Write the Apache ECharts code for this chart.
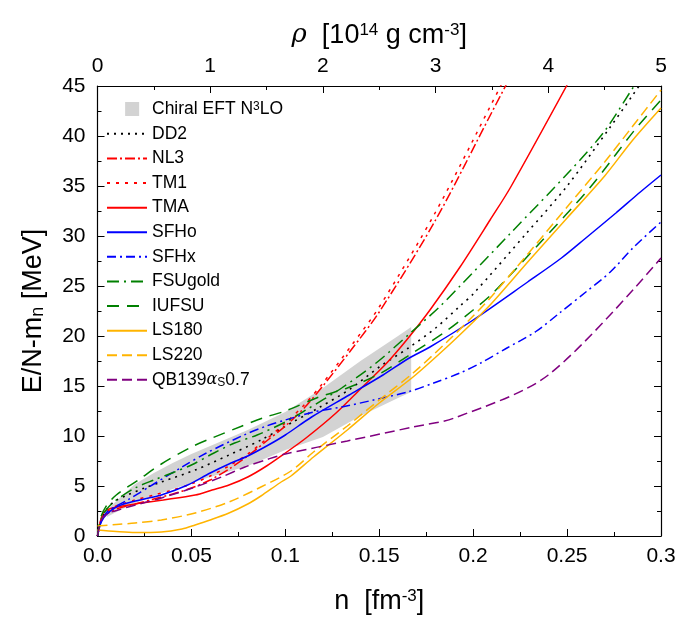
<!DOCTYPE html>
<html>
<head>
<meta charset="utf-8">
<script src="https://cdn.jsdelivr.net/npm/echarts@6/dist/echarts.min.js"></script>
<style>
  html, body { margin: 0; padding: 0; background: #fff; }
  #chart { width: 694px; height: 619px; }
</style>
</head>
<body>
<div id="chart"></div>
<script>
// neutron matter E/N - m_n [MeV] vs n [fm^-3]

// chiral EFT band (lower / upper edge)
var bandN     = [0.005, 0.01, 0.02, 0.03, 0.04, 0.05, 0.06, 0.08, 0.1, 0.12, 0.14, 0.16, 0.167];
var bandLow   = [1.9, 2.4, 3.3, 4.0, 4.7, 5.3, 5.9, 7.0, 8.6, 9.9, 12.0, 13.8, 14.4];
var bandHigh  = [2.6, 3.5, 5.2, 6.3, 7.3, 8.2, 9.0, 10.6, 12.4, 14.8, 17.5, 20.0, 20.9];

var dd2 = [[0,0],[0.002,1.6],[0.005,2.7],[0.0093,3.5],[0.016,4.1],[0.025,4.8],[0.034,5.4],[0.052,6.6],
  [0.07,8.1],[0.087,9.6],[0.104,11.4],[0.1185,12.9],[0.1345,14.7],[0.15,16.9],[0.1655,18.8],[0.18,20.8],
  [0.193,23.0],[0.2,24.2],[0.2285,30.3],[0.25,35.0],[0.273,40.9],[0.285,44.1],[0.3,48.2]];
var nl3 = [[0,0],[0.002,1.6],[0.005,2.2],[0.01,2.7],[0.02,3.2],[0.03,3.7],[0.04,4.2],[0.05,4.8],[0.06,5.6],
  [0.07,6.7],[0.08,8.0],[0.09,9.5],[0.1,11.0],[0.11,12.8],[0.12,15.0],[0.135,18.6],[0.15,22.4],
  [0.18,31.6],[0.21,42.4],[0.22,46.0]];
var tm1 = [[0,0],[0.002,1.7],[0.005,2.4],[0.01,3.0],[0.02,3.6],[0.03,4.1],[0.04,4.6],[0.05,5.2],[0.06,6.0],
  [0.07,7.0],[0.08,8.2],[0.09,9.7],[0.1,11.3],[0.11,13.1],[0.12,15.3],[0.135,19.0],[0.15,22.9],
  [0.18,32.4],[0.21,43.3],[0.22,47.0]];
var tma = [[0,0],[0.002,1.8],[0.004,2.5],[0.01,2.9],[0.0235,3.3],[0.035,3.6],[0.052,4.1],[0.061,4.6],
  [0.07,5.1],[0.08,5.9],[0.09,7.0],[0.1,8.3],[0.111,9.8],[0.127,12.3],[0.14,14.7],[0.154,17.3],[0.165,19.7],
  [0.177,22.6],[0.193,26.9],[0.209,31.6],[0.22,34.9],[0.25,45.1]];
var sfho = [[0,0],[0.002,1.4],[0.005,2.2],[0.01,2.9],[0.016,3.3],[0.025,3.7],[0.034,4.1],[0.048,5.1],
  [0.06,6.3],[0.07,7.2],[0.08,8.0],[0.091,9.1],[0.1,10.1],[0.114,11.9],[0.134,14.1],[0.152,16.1],
  [0.166,17.8],[0.177,18.9],[0.2,21.6],[0.229,25.4],[0.247,27.8],[0.26,29.8],[0.276,32.3],[0.289,34.4],[0.3,36.1]];
var sfhx = [[0,0],[0.002,1.5],[0.005,2.4],[0.01,3.0],[0.016,3.6],[0.03,5.2],[0.045,6.9],[0.058,8.3],
  [0.078,10.1],[0.09,11.0],[0.1,11.6],[0.115,12.4],[0.13,12.9],[0.147,13.6],[0.165,14.4],[0.179,15.3],
  [0.193,16.3],[0.204,17.3],[0.218,18.8],[0.233,20.4],[0.246,22.3],[0.26,24.4],[0.273,26.4],[0.285,28.8],[0.3,31.4]];
var fsugold = [[0,0],[0.002,1.7],[0.005,2.7],[0.01,3.6],[0.02,4.8],[0.03,5.6],[0.041,6.4],[0.05,7.1],
  [0.062,8.3],[0.073,9.3],[0.085,10.1],[0.1,11.4],[0.111,12.6],[0.13,14.8],[0.149,17.4],[0.166,20.2],
  [0.182,22.9],[0.193,25.0],[0.22,30.3],[0.252,36.6],[0.27,40.5],[0.286,45.1],[0.3,49.0]];
var iufsu = [[0,0],[0.002,2.0],[0.005,3.1],[0.01,4.1],[0.0217,5.6],[0.034,7.2],[0.05,8.9],[0.061,9.8],
  [0.077,11.0],[0.088,11.8],[0.1,12.5],[0.118,13.9],[0.133,14.8],[0.15,16.2],[0.166,18.1],[0.185,20.4],
  [0.2,22.6],[0.21,24.2],[0.235,29.2],[0.262,34.8],[0.286,40.6],[0.3,43.6]];
var ls180 = [[0,0.6],[0.01,0.45],[0.02,0.35],[0.034,0.4],[0.045,0.7],[0.052,1.1],[0.06,1.6],[0.07,2.3],
  [0.08,3.2],[0.087,4.0],[0.097,5.3],[0.103,6.0],[0.115,7.9],[0.133,10.6],[0.15,13.3],[0.168,15.9],
  [0.186,18.9],[0.2,21.4],[0.21,23.3],[0.23,27.6],[0.25,31.8],[0.27,36.0],[0.285,39.6],[0.3,42.8]];
var ls220 = [[0,1.0],[0.01,1.15],[0.02,1.3],[0.034,1.6],[0.052,2.3],[0.07,3.4],[0.087,4.9],[0.103,6.5],
  [0.115,8.4],[0.133,11.0],[0.15,13.6],[0.168,16.3],[0.186,19.4],[0.2,22.0],[0.21,24.0],[0.23,28.4],
  [0.25,32.9],[0.27,37.4],[0.285,41.0],[0.3,44.6]];
var qb139 = [[0,0],[0.002,1.6],[0.0056,2.3],[0.0093,2.5],[0.0163,2.9],[0.034,3.8],[0.052,4.9],[0.066,5.9],
  [0.0785,6.9],[0.091,7.7],[0.1,8.2],[0.133,9.5],[0.168,10.9],[0.19,11.8],[0.24,16.1],[0.3,27.8]];

var xTicks = [0, 0.05, 0.1, 0.15, 0.2, 0.25, 0.3];
var rhoTicks = [0, 1, 2, 3, 4, 5];

var FONT = 'Liberation Sans';

function curve(name, data, color, type, width) {
  return {
    name: name,
    type: 'line',
    data: data,
    xAxisIndex: 0,
    yAxisIndex: 0,
    symbol: 'none',
    smooth: 0.3,
    lineStyle: { color: color, type: type, width: width || 1.5 },
    itemStyle: { color: color },
    z: 3
  };
}

// one polygon for the whole band, points mapped through the axes
function renderBand(params, api) {
  if (params.dataIndex !== 0) return null;
  var pts = [];
  for (var i = 0; i < bandN.length; i++) pts.push(api.coord([bandN[i], bandHigh[i]]));
  for (var j = bandN.length - 1; j >= 0; j--) pts.push(api.coord([bandN[j], bandLow[j]]));
  return { type: 'polygon', shape: { points: pts }, style: { fill: '#d3d3d3' } };
}

var chart = echarts.init(document.getElementById('chart'));

var axisBase = {
  axisLine: { show: true, onZero: false, lineStyle: { color: '#000', width: 1.2 } },
  axisTick: { inside: true, length: 7, lineStyle: { color: '#000' } },
  minorTick: { show: true, splitNumber: 2, length: 4, lineStyle: { color: '#000' } },
  splitLine: { show: false }
};

var option = {
  backgroundColor: '#fff',
  animation: false,
  grid: { left: 97.5, right: 33, top: 86, bottom: 83, outerBoundsMode: 'none', containLabel: false },
  legend: {
    orient: 'vertical',
    left: 101,
    top: 95,
    itemWidth: 40,
    itemHeight: 14,
    itemGap: 6.6,
    itemStyle: { opacity: 0 },
    textStyle: {
      fontFamily: FONT, fontSize: 17.5, color: '#000', lineHeight: 17.5,
      rich: {
        sup: { fontFamily: FONT, fontSize: 12, verticalAlign: 'top', lineHeight: 12, padding: [0, 0, 6, 0] },
        sub: { fontFamily: FONT, fontSize: 12, verticalAlign: 'bottom', lineHeight: 12 },
        it: { fontFamily: 'DejaVu Serif', fontStyle: 'italic', fontSize: 16 }
      }
    },
    formatter: function (name) {
      if (name === 'Chiral EFT N3LO') return 'Chiral EFT N{sup|3}LO';
      if (name === 'QB139aS0.7') return 'QB139{it|α}{sub|S}0.7';
      return name;
    },
    data: [
      { name: 'Chiral EFT N3LO', itemStyle: { opacity: 1 },
        icon: 'path://M0,0h0.01v0.01h-0.01z M40,15h-0.01v-0.01h0.01z M18,0h15v15h-15z' },
      'DD2', 'NL3', 'TM1', 'TMA', 'SFHo', 'SFHx', 'FSUgold', 'IUFSU', 'LS180', 'LS220', 'QB139aS0.7'
    ]
  },
  xAxis: [
    Object.assign({}, axisBase, {
      type: 'value', position: 'bottom', min: 0, max: 0.3, interval: 0.05,
      name: 'n  [fm{sup|-3}]', nameLocation: 'middle', nameGap: 52,
      nameTextStyle: {
        fontFamily: FONT, fontSize: 27, color: '#000',
        rich: { sup: { fontFamily: FONT, fontSize: 17, verticalAlign: 'top', lineHeight: 17 } }
      },
      axisLabel: {
        fontFamily: FONT, fontSize: 21, color: '#000', margin: 10,
        formatter: function (v) { return v === xTicks[0] ? '0.0' : String(+v.toFixed(2)); }
      }
    }),
    Object.assign({}, axisBase, {
      type: 'value', position: 'top', min: rhoTicks[0], max: rhoTicks[rhoTicks.length - 1], interval: 1,
      name: '{it|ρ}  [10{sup|14} g cm{sup|-3}]', nameLocation: 'middle', nameGap: 37,
      nameTextStyle: {
        fontFamily: FONT, fontSize: 27, color: '#000',
        rich: {
          sup: { fontFamily: FONT, fontSize: 17, verticalAlign: 'top', lineHeight: 17 },
          it: { fontFamily: 'DejaVu Serif', fontStyle: 'italic', fontSize: 26 }
        }
      },
      axisLabel: { fontFamily: FONT, fontSize: 21, color: '#000', margin: 9 }
    })
  ],
  yAxis: [
    Object.assign({}, axisBase, {
      type: 'value', position: 'left', min: 0, max: 45, interval: 5,
      name: 'E/N-m{sub|n} [MeV]', nameLocation: 'middle', nameGap: 50,
      nameTextStyle: {
        fontFamily: FONT, fontSize: 27, color: '#000',
        rich: { sub: { fontFamily: FONT, fontSize: 18, verticalAlign: 'bottom', lineHeight: 14 } }
      },
      axisLabel: { fontFamily: FONT, fontSize: 21, color: '#000', margin: 12 }
    }),
    Object.assign({}, axisBase, {
      type: 'value', position: 'right', min: 0, max: 45, interval: 5,
      axisLabel: { show: false }
    })
  ],
  series: [
    {
      name: 'Chiral EFT N3LO', type: 'custom',
      data: bandN.map(function (n, i) { return [n, bandLow[i], bandHigh[i]]; }),
      encode: { x: 0, y: [1, 2] },
      renderItem: renderBand,
      itemStyle: { color: '#d3d3d3' },
      silent: true, z: 1
    },
    curve('DD2', dd2, '#000000', [2, 5], 1.6),
    curve('NL3', nl3, '#ff0000', [10, 3, 2, 3]),
    curve('TM1', tm1, '#ff0000', [3, 6]),
    curve('TMA', tma, '#ff0000', 'solid'),
    curve('SFHo', sfho, '#0000ff', 'solid'),
    curve('SFHx', sfhx, '#0000ff', [9, 4, 2, 4]),
    curve('FSUgold', fsugold, '#008000', [12, 5, 2, 5]),
    curve('IUFSU', iufsu, '#008000', [12, 8]),
    curve('LS180', ls180, '#ffb400', 'solid'),
    curve('LS220', ls220, '#ffb400', [10, 5]),
    curve('QB139aS0.7', qb139, '#800080', [10, 5])
  ]
};

chart.setOption(option);
</script>
</body>
</html>
